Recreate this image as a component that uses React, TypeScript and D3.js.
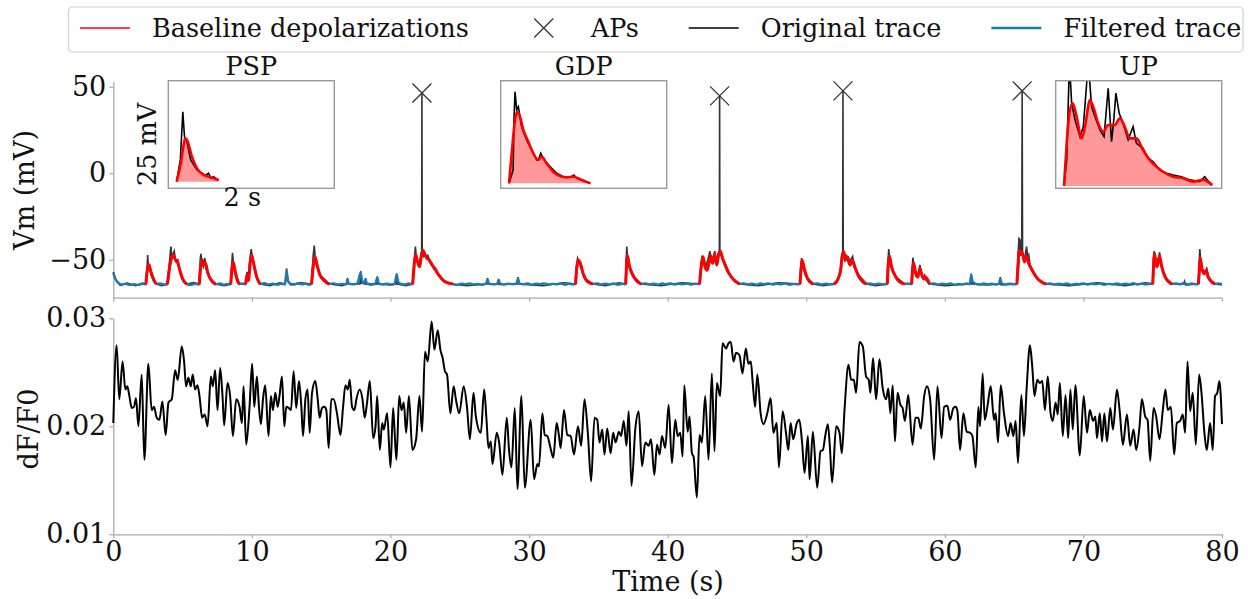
import React, { useEffect, useRef } from "react";
import * as d3 from "d3";

const W = 1250;
const H = 599;
const FONT = "DejaVu Serif";

// ---------- tick labels ----------
const vmTicks = [-50, 0, 50];
const timeTicks = [0, 10, 20, 30, 40, 50, 60, 70, 80];
const dffTicks = [0.01, 0.02, 0.03];

// ---------- legend ----------
const legendLabels = ["Baseline depolarizations", "APs", "Original trace", "Filtered trace"];

// ---------- top panel: Vm (mV) vs time (s) ----------
const depolarizationWindows: [number, number][] = [
  [2.35, 3.1], [3.9, 5.3], [6.2, 7.4], [8.47, 9.1], [9.55, 10.6], [14.3, 15.6],
  [21.6, 24.5], [33.35, 34.6], [36.97, 38.1], [42.3, 45.2], [49.55, 50.5],
  [52.0, 54.35], [55.85, 57.1], [57.6, 58.9], [65.2, 67.3], [75.0, 76.4], [78.3, 79.5],
];

const apTimes = [22.27, 43.75, 52.65, 65.58];
const apPeaks = [46.4, 44.7, 47.6, 47.6];

const filteredTrace: [number, number][] = [
  [0, -57.5], [0.15, -61], [0.35, -63.2], [0.6, -64.3], [0.9, -63.8], [1.2, -64.6], [1.5, -64.1], [1.8, -64.5], [2.1, -63.9],
  [2.35, -64.2], [2.42, -58], [2.5, -54], [2.57, -52.8], [2.68, -56], [2.8, -59], [2.95, -62], [3.1, -64],
  [3.4, -63.6], [3.65, -64.3],
  [3.9, -64.1], [4.05, -55], [4.2, -49], [4.33, -47.3], [4.48, -50], [4.62, -51], [4.8, -56], [5.0, -61], [5.3, -64],
  [5.6, -64.5], [5.9, -63.9],
  [6.2, -64.3], [6.3, -54], [6.4, -50], [6.53, -53], [6.65, -52], [6.8, -57], [7.0, -61], [7.4, -64.1],
  [7.7, -63.7], [8.0, -64.4], [8.2, -63.9],
  [8.47, -64.2], [8.55, -56], [8.65, -51.3], [8.8, -57], [8.95, -62], [9.1, -64],
  [9.3, -63.6],
  [9.55, -64.1], [9.65, -59], [9.75, -62], [9.88, -51], [9.98, -47.3], [10.12, -52], [10.35, -60], [10.6, -64],
  [10.9, -63.5], [11.2, -64.3], [11.5, -63.8], [11.8, -64.4], [12.1, -63.9], [12.4, -64.1], [12.5, -56.5], [12.6, -62], [12.75, -63.8],
  [13.0, -64.3], [13.3, -63.7], [13.6, -64.2], [13.9, -63.8], [14.1, -64.4],
  [14.3, -64.1], [14.42, -54], [14.55, -48.3], [14.7, -53], [14.9, -58.5], [15.2, -62], [15.6, -64],
  [15.9, -63.6], [16.2, -64.2], [16.5, -63.9], [16.8, -64.3], [16.9, -61.5], [17.0, -63.8], [17.3, -64.2], [17.6, -63.7],
  [17.85, -57.5], [17.95, -62], [18.1, -63.5], [18.2, -61.5], [18.3, -63.6], [18.6, -64.1], [18.9, -63.8], [19.05, -60.5],
  [19.15, -63.5], [19.4, -64.3], [19.7, -63.8], [20.0, -64.2], [20.3, -63.9], [20.45, -58.5], [20.55, -62.5], [20.7, -63.8],
  [21.0, -64.3], [21.3, -63.7],
  [21.6, -64.1], [21.72, -52], [21.82, -47], [21.95, -51], [22.1, -54], [22.22, -48], [22.33, -44.5], [22.48, -47], [22.62, -49],
  [22.78, -50], [23.0, -53], [23.2, -55], [23.5, -59], [23.9, -62.5], [24.5, -64],
  [24.8, -64.5], [25.1, -63.8], [25.4, -64.2], [25.7, -63.6], [26.0, -64.3], [26.3, -63.9], [26.6, -64.4], [26.9, -63.7],
  [27.0, -61.5], [27.1, -63.6], [27.4, -64.2], [27.7, -63.9], [27.8, -61.8], [27.9, -63.5], [28.2, -64.3], [28.5, -63.8],
  [28.8, -64.1], [29.1, -63.6], [29.2, -60.8], [29.3, -63.5], [29.6, -64.2], [29.9, -63.7], [30.2, -64.4], [30.5, -63.8],
  [30.8, -64.1], [31.1, -63.6], [31.4, -64.3], [31.7, -63.9], [32.0, -64.2], [32.3, -63.7], [32.6, -64.4], [32.9, -63.8],
  [33.15, -64.2],
  [33.35, -64], [33.45, -54], [33.57, -50.3], [33.7, -52], [33.9, -58], [34.2, -62.5], [34.6, -64],
  [34.9, -63.6], [35.2, -64.3], [35.5, -63.8], [35.8, -64.2], [36.1, -63.7], [36.4, -64.4], [36.7, -63.9],
  [36.97, -64.1], [37.02, -55], [37.09, -47.5], [37.25, -54], [37.5, -59], [37.8, -62.5], [38.1, -64],
  [38.4, -63.6], [38.7, -64.2], [39.0, -63.8], [39.3, -64.4], [39.6, -63.7], [39.9, -64.1], [40.2, -63.6], [40.5, -64.3],
  [40.8, -63.9], [41.1, -64.2], [41.4, -63.7], [41.7, -64.3], [42.0, -63.8],
  [42.3, -64.1], [42.45, -52], [42.55, -48.3], [42.7, -54], [42.85, -56], [43.0, -51], [43.1, -47.5], [43.25, -52],
  [43.4, -47], [43.55, -53], [43.68, -46.5], [43.8, -45], [43.95, -49], [44.1, -52], [44.3, -56], [44.6, -60], [45.2, -64],
  [45.5, -63.6], [45.8, -64.2], [46.1, -63.8], [46.4, -64.4], [46.7, -63.7], [47.0, -64.1], [47.3, -63.6], [47.6, -64.3],
  [47.9, -63.8], [48.2, -64.2], [48.5, -63.7], [48.8, -64.4], [49.1, -63.9], [49.35, -64.2],
  [49.55, -64], [49.62, -56], [49.7, -50.3], [49.85, -55], [50.1, -61], [50.5, -64],
  [50.8, -63.6], [51.1, -64.3], [51.4, -63.8], [51.7, -64.2],
  [52.0, -64], [52.3, -61], [52.5, -55], [52.6, -47.5], [52.7, -45.3], [52.85, -50], [53.0, -48.5], [53.15, -53],
  [53.35, -50.5], [53.5, -54], [53.75, -59], [54.35, -64],
  [54.6, -63.6], [54.9, -64.3], [55.2, -63.8], [55.5, -64.2],
  [55.85, -64], [55.92, -52], [56.0, -47.8], [56.15, -54], [56.4, -59], [56.7, -62.5], [57.1, -64],
  [57.35, -63.7],
  [57.6, -64.1], [57.68, -55], [57.75, -52], [57.9, -58], [58.05, -60], [58.2, -55], [58.35, -59], [58.5, -61], [58.6, -60], [58.9, -64],
  [59.2, -63.6], [59.5, -64.3], [59.8, -63.8], [60.1, -64.2], [60.4, -63.7], [60.7, -64.4], [61.0, -63.9], [61.3, -64.2],
  [61.6, -63.7], [61.8, -64.1], [61.9, -58.8], [62.0, -62.5], [62.2, -63.8], [62.5, -64.3], [62.8, -63.7], [63.1, -64.2],
  [63.4, -63.8], [63.7, -64.3], [63.9, -63.9], [64.0, -61], [64.1, -63.6], [64.4, -64.2], [64.7, -63.8], [65.0, -64.2],
  [65.2, -64], [65.28, -54], [65.36, -44.5], [65.46, -47], [65.6, -46], [65.75, -51], [65.9, -48], [66.05, -52], [66.3, -56],
  [66.6, -60], [67.0, -63], [67.3, -64],
  [67.6, -63.6], [67.9, -64.3], [68.2, -63.8], [68.5, -64.2], [68.8, -63.7], [69.1, -64.4], [69.4, -63.9], [69.7, -64.1],
  [70.0, -63.6], [70.3, -64.3], [70.6, -63.8], [70.9, -64.2], [71.2, -63.7], [71.5, -64.4], [71.8, -63.9], [72.1, -64.2],
  [72.4, -63.6], [72.7, -64.3], [73.0, -63.8], [73.3, -64.2], [73.6, -63.5], [73.9, -64.3], [74.2, -63.9], [74.5, -64.2],
  [74.8, -63.8],
  [75.0, -64], [75.07, -52], [75.12, -46.3], [75.2, -50], [75.3, -54], [75.42, -50], [75.5, -48], [75.65, -54], [75.9, -60], [76.4, -64],
  [76.7, -63.6], [77.0, -64.2], [77.3, -63.2], [77.5, -64.3], [77.8, -63.7], [78.1, -64.2],
  [78.3, -64], [78.37, -55], [78.43, -49], [78.55, -55], [78.7, -58], [78.85, -56], [79.0, -60], [79.5, -64],
  [79.75, -63.6], [80.0, -64.1],
];

const originalTrace: [number, number][] = [
  [0, -57], [0.2, -62], [0.5, -64.8], [1.0, -63.5], [1.6, -65], [2.1, -63.5],
  [2.35, -64], [2.42, -58], [2.48, -47.2], [2.52, -53], [2.6, -55], [2.75, -59], [2.9, -62], [3.1, -64],
  [3.5, -65], [3.9, -64], [4.0, -56], [4.1, -47], [4.16, -42.4], [4.22, -48], [4.3, -47], [4.4, -45], [4.5, -51], [4.65, -50],
  [4.8, -57], [5.0, -61], [5.3, -64],
  [5.8, -63.2], [6.2, -64], [6.27, -50], [6.32, -46.5], [6.4, -52], [6.5, -54], [6.6, -49], [6.7, -55], [6.9, -60], [7.4, -64],
  [8.0, -65], [8.47, -64], [8.55, -52], [8.6, -46], [8.68, -53], [8.85, -58], [9.1, -64],
  [9.55, -64], [9.65, -57], [9.75, -62], [9.88, -48], [9.95, -43.8], [10.05, -50], [10.2, -55], [10.4, -61], [10.6, -64],
  [11.3, -65], [12.0, -63.3], [12.4, -64], [12.5, -55], [12.6, -62], [12.8, -64.5], [13.5, -63.3],
  [14.3, -64], [14.42, -48], [14.5, -41.8], [14.58, -50], [14.75, -55], [14.95, -59], [15.6, -64],
  [16.5, -65], [16.85, -64], [16.9, -60.5], [16.96, -64], [17.8, -64], [17.85, -56.5], [17.92, -63.5], [18.15, -64],
  [18.2, -60.5], [18.26, -64], [18.6, -64.5], [19.0, -64], [19.05, -59.5], [19.12, -64], [20.0, -64.5], [20.4, -64],
  [20.45, -58], [20.52, -64], [21.1, -65],
  [21.6, -64], [21.72, -50], [21.8, -42.4], [21.88, -50], [22.05, -53], [22.2, -48], [22.25, -47], [22.27, 46.4], [22.29, -46],
  [22.4, -48], [22.5, -46.5], [22.6, -49], [22.7, -47.5], [22.85, -51], [23.0, -52], [23.1, -55], [23.4, -58], [23.8, -62], [24.5, -64],
  [25.5, -65], [26.95, -64], [27.0, -60.5], [27.07, -64], [27.75, -64], [27.8, -61], [27.86, -64.3], [29.15, -64],
  [29.2, -60], [29.27, -64], [31.0, -65], [32.5, -63.3],
  [33.35, -64], [33.45, -52], [33.5, -49], [33.6, -51], [33.8, -56], [34.1, -61], [34.6, -64],
  [35.5, -65], [36.5, -63.3],
  [36.97, -64], [37.0, -52], [37.05, -42.4], [37.12, -50], [37.3, -55], [37.6, -60], [38.1, -64],
  [39.5, -65], [41.0, -63.3],
  [42.3, -64], [42.42, -52], [42.5, -47.6], [42.6, -52], [42.75, -54], [42.9, -50], [43.05, -45], [43.15, -52], [43.3, -48],
  [43.4, -45], [43.5, -52], [43.65, -47], [43.73, -46], [43.75, 44.7], [43.77, -47], [43.95, -48], [44.05, -52], [44.2, -53],
  [44.4, -57], [44.7, -61], [45.2, -64],
  [46.5, -65], [48.0, -63.3],
  [49.55, -64], [49.6, -55], [49.66, -49], [49.75, -53], [49.95, -59], [50.5, -64],
  [51.2, -65],
  [52.0, -64], [52.3, -61], [52.5, -55], [52.6, -48], [52.63, -47], [52.65, 47.6], [52.67, -47], [52.8, -51], [52.9, -47],
  [53.05, -52], [53.2, -50], [53.35, -48], [53.45, -54], [53.7, -58], [54.35, -64],
  [55.0, -65],
  [55.85, -64], [55.9, -52], [55.95, -43.8], [56.05, -51], [56.25, -56], [56.5, -60], [57.1, -64],
  [57.6, -64], [57.65, -54], [57.7, -48.8], [57.8, -55], [57.95, -59], [58.1, -58], [58.2, -53], [58.3, -58], [58.45, -61],
  [58.55, -59], [58.65, -62], [58.9, -64],
  [60.0, -65], [61.85, -64], [61.9, -58], [61.97, -64], [63.0, -64.5], [63.95, -64], [64.0, -60], [64.07, -64.5],
  [65.2, -64], [65.28, -48], [65.35, -37], [65.42, -46], [65.5, -38], [65.55, -45], [65.58, 47.6], [65.61, -48], [65.75, -52],
  [65.85, -45], [65.9, -42.4], [65.97, -48], [66.05, -47], [66.15, -53], [66.4, -57], [66.7, -61], [67.3, -64],
  [69.0, -65], [71.0, -63.3], [73.0, -65], [74.5, -63.3],
  [75.0, -64], [75.05, -52], [75.1, -45], [75.18, -50], [75.3, -54], [75.42, -49], [75.5, -45.7], [75.58, -52], [75.75, -56],
  [76.0, -61], [76.4, -64],
  [77.25, -64], [77.3, -62.5], [77.37, -64.5],
  [78.3, -64], [78.35, -52], [78.4, -43.8], [78.48, -52], [78.6, -56], [78.75, -58], [78.9, -55], [79.0, -59], [79.2, -62],
  [79.5, -64], [80.0, -64.5],
];

// ---------- insets: time (s) from event onset, mV above baseline ----------
const insetTitles = ["PSP", "GDP", "UP"];

const pspOriginal: [number, number][] = [
  [0, -0.4], [0.18, 9.7], [0.3, 32], [0.38, 20.5], [0.5, 18], [0.68, 9.7], [0.98, 5], [1.38, 2.5], [1.54, 3.5],
  [1.65, 1.2], [1.78, 1.9], [2.02, 0.2],
];
const pspFiltered: [number, number][] = [
  [0, -0.4], [0.2, 8], [0.33, 16], [0.41, 19.7], [0.5, 19], [0.74, 11.2], [0.98, 5.8], [1.3, 2.7], [1.54, 1.9],
  [1.78, 1.2], [2.02, 0.4],
];
const gdpOriginal: [number, number][] = [
  [0, -1.2], [0.2, 5], [0.24, 28.3], [0.29, 41.4], [0.37, 32.9], [0.45, 34.4], [0.61, 25.1], [0.85, 19], [1.09, 14.3],
  [1.33, 9.7], [1.42, 9.9], [1.53, 12.8], [1.69, 9.7], [1.98, 6.6], [2.3, 3.5], [2.62, 1.9], [2.94, 1.6], [3.13, 2.7],
  [3.26, 1.2], [3.58, 0], [3.9, -1.2],
];
const gdpFiltered: [number, number][] = [
  [0, -1.2], [0.13, 12.8], [0.29, 28.3], [0.4, 32.1], [0.5, 30.6], [0.69, 23.6], [0.93, 18.2], [1.17, 12.8], [1.41, 9.7],
  [1.57, 11.2], [1.81, 8.1], [2.13, 4.2], [2.45, 2.2], [2.78, 1.6], [3.1, 1.9], [3.42, 0.7], [3.93, -1.2],
];
const upOriginal: [number, number][] = [
  [0, -2.4], [0.13, 9.7], [0.26, 55], [0.37, 36], [0.53, 28.3], [0.77, 20.5], [0.93, 25.1], [1.17, 55], [1.33, 34.4],
  [1.49, 29.8], [1.73, 23.6], [1.93, 20.5], [2.13, 43], [2.29, 18.2], [2.4, 28.3], [2.5, 40.7], [2.66, 31.4], [2.85, 26.7],
  [3.09, 19], [3.33, 25.1], [3.49, 17.4], [3.81, 15.1], [4.05, 10.5], [4.29, 8.9], [4.61, 5], [4.94, 3.5], [5.26, 2.7],
  [5.66, 1.9], [6.06, 0.4], [6.54, -0.4], [6.78, 1.9], [7.1, -2],
];
const upFiltered: [number, number][] = [
  [0, -2.4], [0.13, 17.4], [0.26, 31.4], [0.42, 36], [0.61, 29.8], [0.85, 19.7], [1.01, 25.1], [1.25, 37.5], [1.41, 34.4],
  [1.65, 26.7], [1.89, 22.8], [2.13, 25.9], [2.45, 25.9], [2.69, 29], [2.93, 25.1], [3.17, 19.7], [3.49, 19.7], [3.81, 14.3],
  [4.13, 9.7], [4.45, 6.6], [4.77, 4.2], [5.26, 1.9], [5.74, 1.2], [6.22, -0.4], [6.7, 0.4], [7.15, -2],
];
const insetOriginals = [pspOriginal, gdpOriginal, upOriginal];
const insetFiltered = [pspFiltered, gdpFiltered, upFiltered];

// ---------- bottom panel: dF/F0 vs time (s) ----------
const dffTrace: [number, number][] = [
  [0, 0.0203], [0.24, 0.0275], [0.43, 0.0225], [0.67, 0.026], [0.87, 0.0234], [1.01, 0.0237], [1.16, 0.0228], [1.33, 0.0217],
  [1.49, 0.0218], [1.64, 0.0226], [1.81, 0.02], [2.05, 0.0248], [2.24, 0.0169], [2.53, 0.0258], [2.77, 0.0215], [2.94, 0.0218],
  [3.13, 0.0208], [3.33, 0.0206], [3.54, 0.0223], [3.78, 0.0192], [3.98, 0.0222], [4.22, 0.0225], [4.46, 0.0252], [4.65, 0.0243],
  [4.94, 0.0274], [5.11, 0.026], [5.25, 0.0237], [5.42, 0.0245], [5.59, 0.0237], [5.73, 0.0248], [5.9, 0.0234], [6.07, 0.0238],
  [6.22, 0.0228], [6.41, 0.0208], [6.6, 0.0211], [6.8, 0.02], [7.04, 0.0246], [7.18, 0.0237], [7.35, 0.0252], [7.52, 0.0215],
  [7.71, 0.0254], [7.88, 0.0228], [8.0, 0.0201], [8.24, 0.024], [8.43, 0.0228], [8.63, 0.0191], [8.87, 0.0225], [9.11, 0.0218],
  [9.28, 0.0203], [9.4, 0.0237], [9.59, 0.0183], [9.83, 0.0218], [10.02, 0.0258], [10.17, 0.0218], [10.36, 0.0246], [10.51, 0.0218],
  [10.65, 0.0202], [10.8, 0.0225], [10.96, 0.0238], [11.2, 0.0191], [11.37, 0.0228], [11.52, 0.0215], [11.69, 0.0231], [11.86, 0.0218],
  [12.0, 0.0229], [12.17, 0.0246], [12.34, 0.02], [12.48, 0.0218], [12.65, 0.0217], [12.82, 0.0215], [13.01, 0.0251], [13.2, 0.0217],
  [13.4, 0.0242], [13.57, 0.0218], [13.69, 0.0191], [13.86, 0.0225], [14.02, 0.0234], [14.17, 0.0194], [14.34, 0.0231], [14.58, 0.0242],
  [14.75, 0.0225], [14.89, 0.0208], [15.06, 0.0217], [15.23, 0.0218], [15.37, 0.0215], [15.54, 0.018], [15.73, 0.0225], [15.9, 0.0225],
  [16.14, 0.0212], [16.39, 0.0192], [16.58, 0.0218], [16.75, 0.0238], [16.92, 0.0234], [17.06, 0.0243], [17.23, 0.0218], [17.4, 0.0215],
  [17.54, 0.0225], [17.78, 0.0234], [17.98, 0.0225], [18.14, 0.0208], [18.31, 0.0222], [18.51, 0.0242], [18.75, 0.0189], [18.92, 0.02],
  [19.04, 0.0228], [19.23, 0.0178], [19.4, 0.0203], [19.52, 0.0197], [19.76, 0.0212], [20.0, 0.0162], [20.19, 0.0217], [20.29, 0.0197],
  [20.43, 0.0169], [20.63, 0.0228], [20.8, 0.0215], [20.96, 0.0222], [21.13, 0.0194], [21.33, 0.0228], [21.58, 0.0178], [21.85, 0.0188],
  [22.09, 0.0228], [22.28, 0.0195], [22.49, 0.0269], [22.69, 0.026], [22.97, 0.0297], [23.17, 0.0271], [23.41, 0.0289], [23.6, 0.0271],
  [23.77, 0.0263], [23.93, 0.0251], [24.08, 0.0248], [24.32, 0.0212], [24.56, 0.0237], [24.72, 0.0225], [24.96, 0.0212], [25.28, 0.0237],
  [25.52, 0.0218], [25.73, 0.0188], [25.99, 0.0231], [26.16, 0.0209], [26.52, 0.0194], [26.76, 0.0234], [26.93, 0.0206], [27.07, 0.018],
  [27.24, 0.0186], [27.36, 0.0165], [27.67, 0.0194], [27.84, 0.0185], [28.08, 0.0155], [28.39, 0.0208], [28.56, 0.0177], [28.73, 0.0162],
  [28.97, 0.0217], [29.16, 0.0142], [29.45, 0.0228], [29.69, 0.0143], [30.12, 0.0206], [30.36, 0.0151], [30.6, 0.0165], [30.72, 0.0163],
  [30.96, 0.0212], [31.13, 0.0192], [31.32, 0.0191], [31.51, 0.0182], [31.75, 0.0171], [31.99, 0.0203], [32.16, 0.0191], [32.28, 0.018],
  [32.52, 0.0215], [32.76, 0.0192], [33.0, 0.0191], [33.24, 0.0174], [33.53, 0.02], [33.76, 0.0182], [34.0, 0.0225], [34.24, 0.0194],
  [34.48, 0.0149], [34.72, 0.0208], [34.92, 0.0206], [35.08, 0.0185], [35.28, 0.0197], [35.44, 0.0174], [35.64, 0.0198], [35.88, 0.0175],
  [36.07, 0.0194], [36.24, 0.0185], [36.48, 0.0195], [36.64, 0.0191], [36.83, 0.0205], [37.03, 0.0182], [37.19, 0.0214], [37.39, 0.0145],
  [37.67, 0.0198], [37.91, 0.0214], [38.15, 0.0163], [38.39, 0.0185], [38.63, 0.0182], [38.8, 0.0188], [39.04, 0.0155], [39.23, 0.0183],
  [39.42, 0.0174], [39.59, 0.0191], [39.83, 0.018], [40.07, 0.022], [40.31, 0.0166], [40.55, 0.0206], [40.72, 0.0191], [40.91, 0.0194],
  [41.08, 0.0172], [41.2, 0.0238], [41.44, 0.0195], [41.58, 0.0209], [41.75, 0.0175], [41.87, 0.0172], [42.11, 0.0134], [42.3, 0.0192],
  [42.47, 0.0185], [42.71, 0.0228], [42.95, 0.0169], [43.19, 0.0249], [43.38, 0.0177], [43.55, 0.024], [43.79, 0.0228], [43.96, 0.0277],
  [44.22, 0.0272], [44.39, 0.0277], [44.56, 0.0278], [44.75, 0.026], [44.94, 0.0268], [45.18, 0.0266], [45.4, 0.0249], [45.64, 0.0272],
  [45.83, 0.0258], [46.0, 0.026], [46.14, 0.024], [46.31, 0.0218], [46.47, 0.0248], [46.71, 0.0212], [46.91, 0.0202], [47.19, 0.0212],
  [47.43, 0.0226], [47.63, 0.0194], [47.87, 0.0203], [48.03, 0.0162], [48.3, 0.0214], [48.54, 0.0194], [48.71, 0.0178], [48.87, 0.0203],
  [49.06, 0.0188], [49.3, 0.0202], [49.5, 0.0206], [49.7, 0.0185], [49.88, 0.0157], [50.12, 0.0191], [50.24, 0.0151], [50.48, 0.0195],
  [50.79, 0.0143], [51.03, 0.0177], [51.2, 0.0178], [51.37, 0.0191], [51.56, 0.0202], [51.7, 0.0182], [51.87, 0.0148], [52.16, 0.02],
  [52.4, 0.0194], [52.57, 0.0175], [52.76, 0.0215], [53.05, 0.0257], [53.24, 0.0243], [53.43, 0.0243], [53.6, 0.0231], [53.84, 0.0278],
  [54.08, 0.0274], [54.32, 0.0246], [54.51, 0.0243], [54.63, 0.0231], [54.82, 0.0263], [55.04, 0.0225], [55.28, 0.0262], [55.52, 0.0235],
  [55.76, 0.0225], [55.92, 0.0235], [56.07, 0.0212], [56.24, 0.0238], [56.4, 0.0186], [56.59, 0.0231], [56.79, 0.022], [56.95, 0.0217],
  [57.12, 0.0205], [57.36, 0.0229], [57.67, 0.0183], [57.87, 0.0208], [58.08, 0.0208], [58.27, 0.0198], [58.51, 0.0228], [58.71, 0.0237],
  [58.94, 0.0225], [59.23, 0.0169], [59.47, 0.0237], [59.76, 0.0189], [59.95, 0.0218], [60.19, 0.0219], [60.38, 0.0206], [60.62, 0.0217],
  [60.79, 0.0218], [60.91, 0.0214], [61.1, 0.0178], [61.34, 0.0212], [61.58, 0.0195], [61.82, 0.0194], [61.99, 0.0191], [62.23, 0.0162],
  [62.42, 0.0218], [62.54, 0.02], [62.73, 0.0249], [62.88, 0.0206], [63.07, 0.0218], [63.31, 0.0237], [63.55, 0.0206], [63.67, 0.0212],
  [63.84, 0.0185], [64.03, 0.0238], [64.27, 0.0212], [64.56, 0.0191], [64.75, 0.0203], [64.94, 0.0191], [65.11, 0.0205], [65.28, 0.0166],
  [65.52, 0.0229], [65.71, 0.0191], [65.9, 0.0234], [66.14, 0.0275], [66.31, 0.0255], [66.47, 0.0228], [66.67, 0.0243], [66.86, 0.024],
  [67.03, 0.0242], [67.22, 0.0215], [67.43, 0.0246], [67.63, 0.0212], [67.79, 0.0205], [67.99, 0.0222], [68.15, 0.0211], [68.3, 0.024],
  [68.51, 0.0191], [68.71, 0.0229], [68.9, 0.0189], [69.06, 0.0234], [69.23, 0.0197], [69.42, 0.0238], [69.74, 0.0173], [70.02, 0.0228],
  [70.26, 0.0194], [70.46, 0.0215], [70.7, 0.0205], [70.86, 0.0209], [70.98, 0.0189], [71.18, 0.0212], [71.34, 0.0186], [71.51, 0.0212],
  [71.7, 0.0186], [71.94, 0.0217], [72.13, 0.0197], [72.42, 0.0234], [72.61, 0.0215], [72.85, 0.0183], [73.14, 0.0211], [73.38, 0.0182],
  [73.62, 0.0197], [73.81, 0.0178], [74.05, 0.02], [74.22, 0.0225], [74.46, 0.0209], [74.63, 0.0206], [74.82, 0.0168], [75.06, 0.0217],
  [75.25, 0.0209], [75.49, 0.0188], [75.73, 0.0215], [75.92, 0.0234], [76.09, 0.0215], [76.31, 0.0218], [76.55, 0.0174], [76.74, 0.0203],
  [76.98, 0.0205], [77.17, 0.0211], [77.34, 0.0194], [77.51, 0.026], [77.7, 0.0214], [77.89, 0.0231], [78.11, 0.0183], [78.35, 0.0248],
  [78.54, 0.0228], [78.71, 0.0197], [78.9, 0.0178], [79.14, 0.0203], [79.33, 0.0178], [79.5, 0.0228], [79.66, 0.0231], [79.81, 0.0242],
  [80.0, 0.0202],
];

function fmtMinus(v: number): string {
  return v < 0 ? "\u2212" + Math.abs(v) : String(v);
}

export default function App() {
  const ref = useRef<SVGSVGElement>(null);

  useEffect(() => {
    const svg = d3.select(ref.current);
    svg.selectAll("*").remove();

    const SPINE = "#aaaaaa";
    const FS_AX = 27;
    const FS = 25.5;

    const x = d3.scaleLinear().domain([0, 80]).range([113.3, 1222]);
    const yTop = d3.scaleLinear().domain([-71.9, 52.9]).range([297.7, 81.7]);
    const yBot = d3.scaleLinear().domain([0.01, 0.03]).range([534.3, 318.3]);

    const styleAxis = (g: d3.Selection<SVGGElement, unknown, null, undefined>) => {
      g.attr("font-family", FONT).attr("font-size", FS_AX);
      g.select(".domain").attr("stroke", SPINE).attr("stroke-width", 1.3);
      g.selectAll(".tick line").attr("stroke", SPINE).attr("stroke-width", 1.2);
      g.selectAll(".tick text").attr("fill", "#111");
    };

    // ---------- top panel ----------
    const top = svg.append("g");
    top.append("g").attr("transform", `translate(0,${yTop.range()[0]})`)
      .call(d3.axisBottom(x).tickValues(timeTicks).tickSize(4).tickSizeOuter(0).tickFormat(() => ""))
      .call(styleAxis);
    top.append("g").attr("transform", `translate(${x.range()[0]},0)`)
      .call(d3.axisLeft(yTop).tickValues(vmTicks).tickSize(4).tickPadding(3).tickSizeOuter(0).tickFormat((d) => fmtMinus(d as number)))
      .call(styleAxis);

    const lineTop = d3.line<[number, number]>().x((d) => x(d[0])).y((d) => yTop(d[1]));
    top.append("path").datum(originalTrace).attr("d", lineTop)
      .attr("fill", "none").attr("stroke", "#000").attr("stroke-opacity", 0.8).attr("stroke-width", 1.6);
    top.append("path").datum(filteredTrace).attr("d", lineTop.curve(d3.curveMonotoneX))
      .attr("fill", "none").attr("stroke", "#1f77b4").attr("stroke-width", 2.4);
    depolarizationWindows.forEach(([a, b]) => {
      const seg = filteredTrace.filter((d) => d[0] >= a - 1e-9 && d[0] <= b + 1e-9);
      top.append("path").datum(seg).attr("d", lineTop.curve(d3.curveMonotoneX))
        .attr("fill", "none").attr("stroke", "#ff0000").attr("stroke-width", 3).attr("stroke-linejoin", "round");
    });
    apTimes.forEach((t, i) => {
      const cx = x(t), cy = yTop(apPeaks[i]);
      const r = 9.5;
      top.append("path").attr("d", `M${cx - r},${cy - r}L${cx + r},${cy + r}M${cx - r},${cy + r}L${cx + r},${cy - r}`)
        .attr("stroke", "#333").attr("stroke-width", 1.3).attr("fill", "none");
    });

    // ---------- insets ----------
    const insetLeft = [168.3, 500.7, 1055.7];
    const insetTop = 80.7, insetW = 166, insetH = 107.6;
    const defs = svg.append("defs");
    insetTitles.forEach((title, i) => {
      const gx = insetLeft[i];
      const ix = d3.scaleLinear().domain([-0.4, 7.6]).range([gx, gx + insetW]);
      const iy = d3.scaleLinear().domain([-3.5, 46.5]).range([insetTop + insetH, insetTop]);
      const clipId = `inset-clip-${i}`;
      defs.append("clipPath").attr("id", clipId).append("rect")
        .attr("x", gx).attr("y", insetTop).attr("width", insetW).attr("height", insetH);
      const g = svg.append("g");
      g.append("rect").attr("x", gx).attr("y", insetTop).attr("width", insetW).attr("height", insetH).attr("fill", "#fff");
      const inner = g.append("g").attr("clip-path", `url(#${clipId})`);
      const filt = insetFiltered[i];
      const base = filt[0][1];
      inner.append("path").datum(filt)
        .attr("d", d3.area<[number, number]>().x((d) => ix(d[0])).y0(iy(base)).y1((d) => iy(d[1])).curve(d3.curveMonotoneX))
        .attr("fill", "#ff0000").attr("fill-opacity", 0.4);
      inner.append("path").datum(insetOriginals[i])
        .attr("d", d3.line<[number, number]>().x((d) => ix(d[0])).y((d) => iy(d[1])))
        .attr("fill", "none").attr("stroke", "#000").attr("stroke-width", 1.6);
      inner.append("path").datum(filt)
        .attr("d", d3.line<[number, number]>().x((d) => ix(d[0])).y((d) => iy(d[1])).curve(d3.curveMonotoneX))
        .attr("fill", "none").attr("stroke", "#ff0000").attr("stroke-width", 2.6).attr("stroke-linejoin", "round");
      g.append("rect").attr("x", gx).attr("y", insetTop).attr("width", insetW).attr("height", insetH)
        .attr("fill", "none").attr("stroke", "#999").attr("stroke-width", 1.4);
      g.append("text").attr("x", gx + insetW / 2).attr("y", 75).attr("text-anchor", "middle")
        .attr("font-family", FONT).attr("font-size", FS).attr("fill", "#111").text(title);
      if (i === 0) {
        g.append("text").attr("transform", `translate(${gx - 12},${insetTop + insetH / 2 + 10}) rotate(-90)`)
          .attr("text-anchor", "middle").attr("font-family", FONT).attr("font-size", FS).attr("fill", "#111").text("25 mV");
        g.append("text").attr("x", gx + 74).attr("y", 206).attr("text-anchor", "middle")
          .attr("font-family", FONT).attr("font-size", FS).attr("fill", "#111").text("2 s");
      }
    });

    // ---------- bottom panel ----------
    const bot = svg.append("g");
    bot.append("g").attr("transform", `translate(0,${yBot.range()[0]})`)
      .call(d3.axisBottom(x).tickValues(timeTicks).tickSize(4).tickPadding(4).tickSizeOuter(0).tickFormat(d3.format("d")))
      .call(styleAxis);
    bot.append("g").attr("transform", `translate(${x.range()[0]},0)`)
      .call(d3.axisLeft(yBot).tickValues(dffTicks).tickSize(4).tickPadding(3).tickSizeOuter(0).tickFormat(d3.format(".2f")))
      .call(styleAxis);
    bot.append("path").datum(dffTrace)
      .attr("d", d3.line<[number, number]>().x((d) => x(d[0])).y((d) => yBot(d[1])).curve(d3.curveMonotoneX))
      .attr("fill", "none").attr("stroke", "#000").attr("stroke-width", 2).attr("stroke-linejoin", "round");

    // ---------- axis labels ----------
    const label = (txt: string, tx: number, ty: number, rot: number) =>
      svg.append("text").attr("transform", `translate(${tx},${ty}) rotate(${rot})`).attr("text-anchor", "middle")
        .attr("font-family", FONT).attr("font-size", FS_AX).attr("fill", "#111").text(txt);
    label("Vm (mV)", 34, 190, -90);
    label("dF/F0", 38, 429, -90);
    label("Time (s)", 668, 591, 0);

    // ---------- legend ----------
    const leg = svg.append("g");
    const box = leg.append("rect").attr("y", 7).attr("height", 45).attr("rx", 4)
      .attr("fill", "#fff").attr("fill-opacity", 0.8).attr("stroke", "#d0d0d0").attr("stroke-width", 1.2);
    let cx = 80;
    const cy = 28;
    legendLabels.forEach((lab, i) => {
      if (i === 0) leg.append("line").attr("x1", cx).attr("x2", cx + 50).attr("y1", cy).attr("y2", cy).attr("stroke", "#ff0000").attr("stroke-width", 1.5);
      if (i === 1) {
        const m = cx + 25, r = 9.5;
        leg.append("path").attr("d", `M${m - r},${cy - r}L${m + r},${cy + r}M${m - r},${cy + r}L${m + r},${cy - r}`)
          .attr("stroke", "#333").attr("stroke-width", 1.3);
      }
      if (i === 2) leg.append("line").attr("x1", cx).attr("x2", cx + 50).attr("y1", cy).attr("y2", cy).attr("stroke", "#000").attr("stroke-opacity", 0.75).attr("stroke-width", 2);
      if (i === 3) leg.append("line").attr("x1", cx).attr("x2", cx + 50).attr("y1", cy).attr("y2", cy).attr("stroke", "#1f77b4").attr("stroke-width", 2.5);
      const t = leg.append("text").attr("x", cx + 72).attr("y", cy + 9).attr("font-family", FONT).attr("font-size", FS)
        .attr("fill", "#111").text(lab);
      const w = (t.node() as SVGTextElement).getComputedTextLength();
      cx = cx + 72 + w + 50;
    });
    box.attr("x", 68.5).attr("width", Math.min(cx - 50 + 5 - 68.5, 1243 - 68.5));
  }, []);

  return (
    <svg
      ref={ref}
      width={W}
      height={H}
      style={{ position: "absolute", left: 0, top: 0, background: "#fff" }}
    />
  );
}
